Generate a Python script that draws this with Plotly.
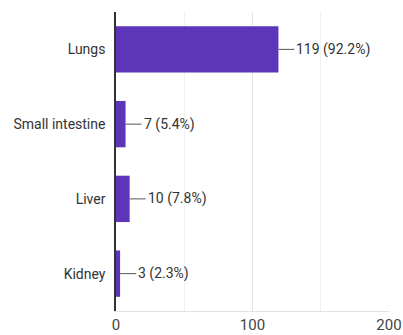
import plotly.graph_objects as go

# Response counts per organ
categories = ["Lungs", "Small intestine", "Liver", "Kidney"]
counts = [119, 7, 10, 3]
percents = ["92.2%", "5.4%", "7.8%", "2.3%"]
tick_vals = [0, 100, 200]

bar_color = "#5c35b8"
text_color = "#333333"

fig = go.Figure(
    go.Bar(
        x=counts,
        y=categories,
        orientation="h",
        marker=dict(color=bar_color, line=dict(width=0)),
        width=0.62,
        hoverinfo="skip",
    )
)

# Leader line plus value label to the right of each bar
for i, (c, p) in enumerate(zip(counts, percents)):
    fig.add_shape(
        type="line",
        xref="x", yref="y",
        xsizemode="pixel", xanchor=c,
        x0=0, x1=16, y0=i, y1=i,
        line=dict(color="#555555", width=1),
    )
    fig.add_annotation(
        x=c, y=categories[i], xref="x", yref="y",
        text=f"{c} ({p})", showarrow=False,
        xanchor="left", yanchor="middle", xshift=16,
        font=dict(family="Roboto", size=14, color=text_color),
    )

fig.update_layout(
    width=403, height=335,
    margin=dict(l=116, r=14, t=12, b=24, autoexpand=False),
    paper_bgcolor="white", plot_bgcolor="white",
    showlegend=False,
    font=dict(family="Roboto", size=14, color=text_color),
    xaxis=dict(
        range=[0, 200],
        tickvals=tick_vals,
        ticks="",
        tickfont=dict(size=15, color="#444444"),
        showgrid=True, gridcolor="#e3e3e3", gridwidth=1,
        minor=dict(dtick=50, showgrid=True, gridcolor="#f2f2f2", gridwidth=1),
        zeroline=False,
        showline=True, linecolor="#e3e3e3", linewidth=1, mirror=False,
        automargin=False,
        fixedrange=True,
    ),
    yaxis=dict(
        range=[3.5, -0.5],
        ticks="",
        showgrid=False,
        showline=True, linecolor="#333333", linewidth=1.5,
        tickfont=dict(size=14, color=text_color),
        ticklabelstandoff=6,
        automargin=False,
        fixedrange=True,
    ),
)

fig.write_html("out.html")
